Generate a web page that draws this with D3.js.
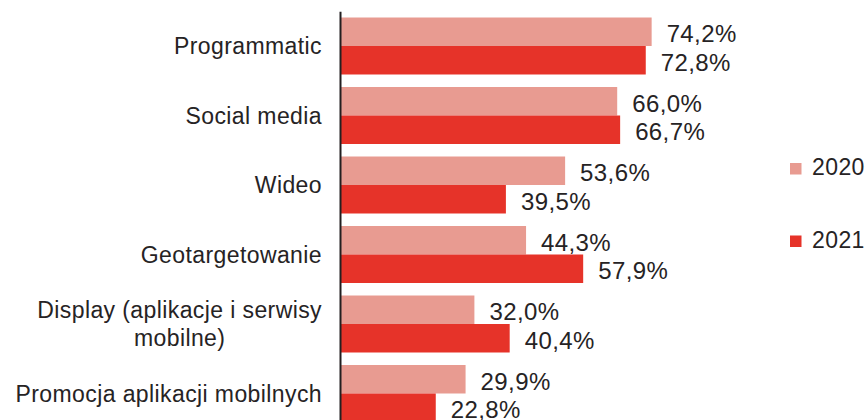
<!DOCTYPE html>
<html>
<head>
<meta charset="utf-8">
<script src="https://cdn.jsdelivr.net/npm/d3@7"></script>
<style>
  html, body { margin: 0; padding: 0; background: #ffffff; }
  svg text { font-family: "Liberation Sans", Arial, Helvetica, sans-serif; fill: #262324; letter-spacing: 0.4px; }
</style>
</head>
<body>
<svg id="chart" width="868" height="420"></svg>
<script>
// Categories (line breaks mark where a long label wraps)
const categories = [
  "Programmatic",
  "Social media",
  "Wideo",
  "Geotargetowanie",
  "Display (aplikacje i serwisy\nmobilne)",
  "Promocja aplikacji mobilnych"
];
const years = ["2020", "2021"];
const values2020 = [74.2, 66.0, 53.6, 44.3, 32.0, 29.9];
const values2021 = [72.8, 66.7, 39.5, 57.9, 40.4, 22.8];
const colors = ["#e89b91", "#e63329"];

const svg = d3.select("#chart");
const axisX = 340;

const x = d3.scaleLinear().domain([0, 100]).range([axisX, axisX + 420]);
const y = d3.scaleBand()
  .domain(categories)
  .range([11.25, 428.25])
  .paddingInner(0.18)
  .paddingOuter(0.09);
const ySub = d3.scaleBand().domain(years).range([0, y.bandwidth()]);
const color = d3.scaleOrdinal().domain(years).range(colors);

const rows = categories.map((c, i) => ({
  category: c,
  bars: [
    { year: "2020", value: values2020[i] },
    { year: "2021", value: values2021[i] }
  ]
}));

const fmt = v => d3.format(".1f")(v).replace(".", ",") + "%";

const groups = svg.append("g").selectAll("g")
  .data(rows).join("g")
  .attr("transform", d => `translate(0,${y(d.category)})`);

groups.selectAll("rect")
  .data(d => d.bars).join("rect")
  .attr("x", x(0))
  .attr("y", d => ySub(d.year))
  .attr("width", d => x(d.value) - x(0))
  .attr("height", ySub.bandwidth())
  .attr("fill", d => color(d.year));

groups.selectAll("text.value")
  .data(d => d.bars).join("text")
  .attr("class", "value")
  .attr("x", d => x(d.value) + 15)
  .attr("y", d => ySub(d.year) + ySub.bandwidth() / 2 + 2)
  .attr("dy", "0.35em")
  .style("font-size", "24px")
  .text(d => fmt(d.value));

// Vertical axis line with no ticks
svg.append("g")
  .attr("transform", `translate(${axisX},0)`)
  .call(d3.axisLeft(y).tickSize(0).tickFormat(""))
  .call(g => g.select(".domain").attr("stroke", "#231f20").attr("stroke-width", 2));

// Category labels, right-aligned; wrapped continuation lines centred under the first line
const labelRight = 322;
const lineGap = 28.3;
categories.forEach(c => {
  const lines = c.split("\n");
  const cy = y(c) + y.bandwidth() / 2;
  const top = cy - (lines.length - 1) * lineGap / 2;
  const first = svg.append("text")
    .attr("x", labelRight)
    .attr("y", top)
    .attr("dy", "0.35em")
    .attr("text-anchor", "end")
    .style("font-size", "23px")
    .text(lines[0]);
  const w = first.node().getComputedTextLength();
  lines.slice(1).forEach((ln, k) => {
    svg.append("text")
      .attr("x", labelRight - w / 2)
      .attr("y", top + (k + 1) * lineGap)
      .attr("dy", "0.35em")
      .attr("text-anchor", "middle")
      .style("font-size", "23px")
      .text(ln);
  });
});

// Legend
const legend = svg.append("g").selectAll("g")
  .data(years).join("g")
  .attr("transform", (d, i) => `translate(790,${163 + i * 72.5})`);
legend.append("rect")
  .attr("width", 11.5).attr("height", 11.5)
  .attr("fill", d => color(d));
legend.append("text")
  .attr("x", 22)
  .attr("y", 12)
  .style("font-size", "23px")
  .text(d => d);
</script>
</body>
</html>
